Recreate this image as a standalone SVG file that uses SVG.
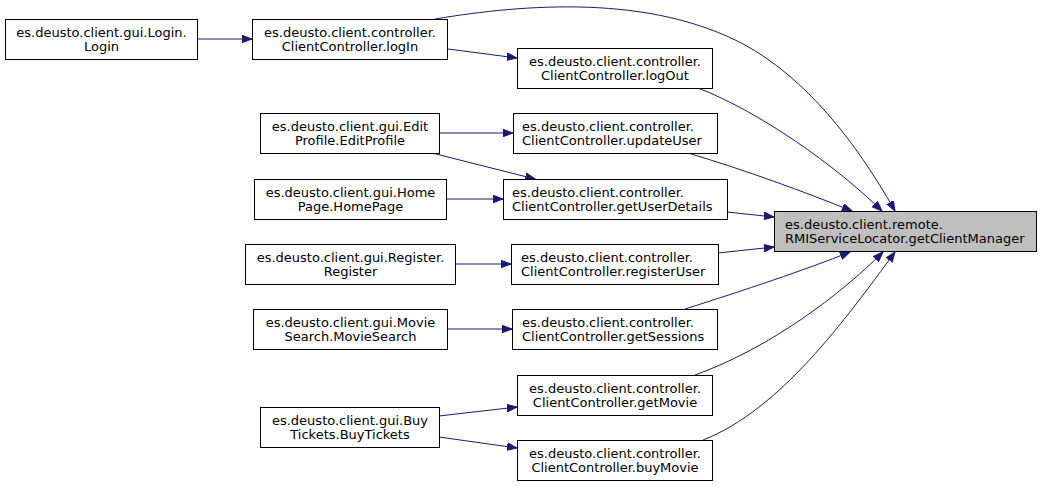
<svg xmlns="http://www.w3.org/2000/svg" width="1043" height="486" viewBox="0 0 1043 486">
<style>
.n rect{fill:#ffffff;stroke:#000000;stroke-width:1}
.n.root rect{fill:#bfbfbf}
.n text{font-family:"DejaVu Sans",sans-serif;font-size:13px;fill:#000000}
.c{text-anchor:middle}
.e path{fill:none;stroke:#191970;stroke-width:1;marker-end:url(#ah)}
</style>
<defs>
<marker id="ah" markerUnits="userSpaceOnUse" markerWidth="11" markerHeight="8" refX="10" refY="3.75" orient="auto">
<path d="M0,0 L10,3.75 L0,7.5 z" fill="#191970" stroke="#191970" stroke-width="1"/>
</marker>
</defs>
<rect width="1043" height="486" fill="#ffffff"/>
<g id="edges" class="e">
<path d="M197,39 L252,39"/>
<path d="M448,49 L517,58"/>
<path d="M435,19 C525,4 650,-6 745,45 C805,78 855,140 895,211"/>
<path d="M698,88 C760,112 835,165 882,211"/>
<path d="M439,133 L513,133"/>
<path d="M432,153 L535,179"/>
<path d="M446,199 L503,199"/>
<path d="M688,153 C745,170 805,192 852,211"/>
<path d="M727,212 L774,217"/>
<path d="M455,264 L511,264"/>
<path d="M718,253 L774,247"/>
<path d="M447,329 L512,329"/>
<path d="M685,309 C745,290 805,270 850,252"/>
<path d="M439,416 L517,407"/>
<path d="M439,437 L517,448"/>
<path d="M695,375 C770,348 840,295 883,252"/>
<path d="M703,440 C780,410 845,320 895,252"/>
</g>
<g id="login" class="n"><rect x="5.5" y="19.5" width="192" height="40"/><text class="c" x="101.5" y="37">es.deusto.client.gui.Login.</text><text class="c" x="101.5" y="51">Login</text></g>
<g id="logIn" class="n"><rect x="252.5" y="19.5" width="195" height="40"/><text class="c" x="350" y="37">es.deusto.client.controller.</text><text class="c" x="350" y="51">ClientController.logIn</text></g>
<g id="logOut" class="n"><rect x="517.5" y="48.5" width="195" height="40"/><text class="c" x="615" y="66">es.deusto.client.controller.</text><text class="c" x="615" y="80">ClientController.logOut</text></g>
<g id="editProfile" class="n"><rect x="260.5" y="113.5" width="179" height="40"/><text class="c" x="350" y="131">es.deusto.client.gui.Edit</text><text class="c" x="350" y="145">Profile.EditProfile</text></g>
<g id="updateUser" class="n"><rect x="513.5" y="113.5" width="204" height="40"/><text x="522" y="131">es.deusto.client.controller.</text><text x="522" y="145">ClientController.updateUser</text></g>
<g id="homePage" class="n"><rect x="254.5" y="179.5" width="192" height="40"/><text class="c" x="350.5" y="197">es.deusto.client.gui.Home</text><text class="c" x="350.5" y="211">Page.HomePage</text></g>
<g id="getUserDetails" class="n"><rect x="503.5" y="179.5" width="224" height="40"/><text x="512" y="197">es.deusto.client.controller.</text><text x="512" y="211">ClientController.getUserDetails</text></g>
<g id="getClientManager" class="n root"><rect x="774.5" y="211.5" width="262" height="40"/><text x="785" y="229">es.deusto.client.remote.</text><text x="785" y="243">RMIServiceLocator.getClientManager</text></g>
<g id="register" class="n"><rect x="245.5" y="244.5" width="210" height="40"/><text class="c" x="350.5" y="262">es.deusto.client.gui.Register.</text><text class="c" x="350.5" y="276">Register</text></g>
<g id="registerUser" class="n"><rect x="511.5" y="244.5" width="207" height="40"/><text x="521" y="262">es.deusto.client.controller.</text><text x="521" y="276">ClientController.registerUser</text></g>
<g id="movieSearch" class="n"><rect x="253.5" y="309.5" width="194" height="40"/><text class="c" x="350.5" y="327">es.deusto.client.gui.Movie</text><text class="c" x="350.5" y="341">Search.MovieSearch</text></g>
<g id="getSessions" class="n"><rect x="512.5" y="309.5" width="205" height="40"/><text x="522" y="327">es.deusto.client.controller.</text><text x="522" y="341">ClientController.getSessions</text></g>
<g id="getMovie" class="n"><rect x="517.5" y="375.5" width="195" height="40"/><text class="c" x="615" y="393">es.deusto.client.controller.</text><text class="c" x="615" y="407">ClientController.getMovie</text></g>
<g id="buyTickets" class="n"><rect x="260.5" y="407.5" width="179" height="40"/><text class="c" x="350" y="425">es.deusto.client.gui.Buy</text><text class="c" x="350" y="439">Tickets.BuyTickets</text></g>
<g id="buyMovie" class="n"><rect x="517.5" y="440.5" width="195" height="40"/><text class="c" x="615" y="458">es.deusto.client.controller.</text><text class="c" x="615" y="472">ClientController.buyMovie</text></g>
</svg>
